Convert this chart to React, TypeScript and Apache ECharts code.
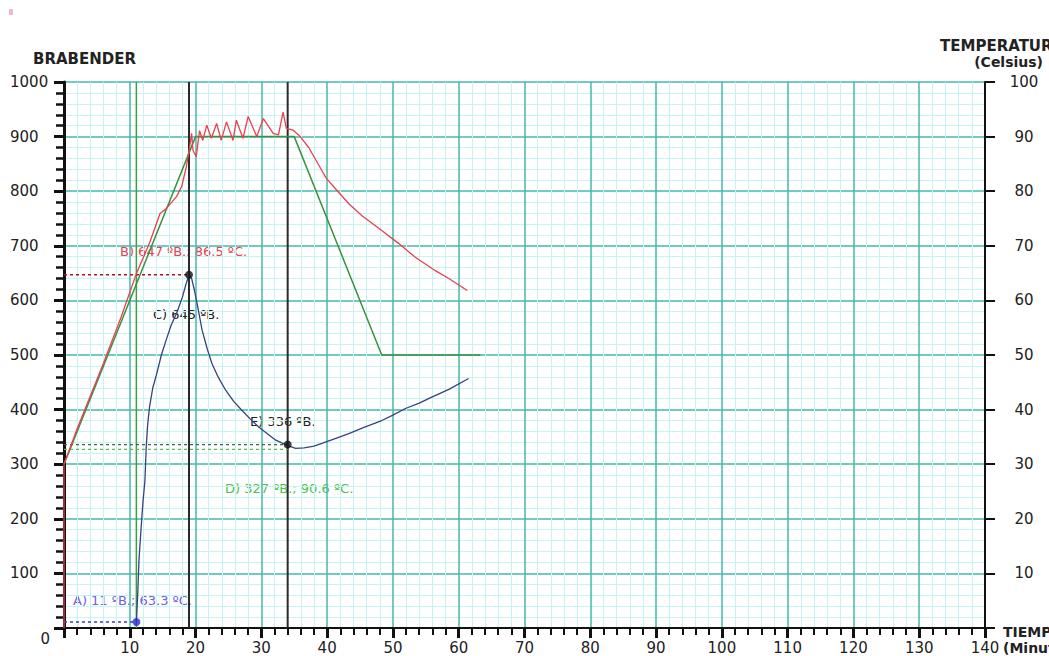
import React, { useEffect, useRef } from "react";
import * as echarts from "echarts";

// Programmed temperature (green), minutes / °C
const greenT = [0, 20, 35, 48.3, 63.3];
const greenV = [30, 90, 90, 50, 50];

// Measured temperature (red), minutes / °C
const redT = [0, 0, 2, 4, 6, 8.7, 11, 13, 14.6, 15.6, 17.1, 17.9, 18.6, 19.1, 19.4, 19.6, 20.1, 20.6, 21.1, 21.7, 22.4, 23.2, 23.9, 24.7, 25.7, 26.2, 27.2, 28, 29.3, 30.3, 31.8, 32.6, 33.3, 33.8, 34.8, 35.9, 37.2, 38.2, 39.8, 41.3, 43.3, 45.3, 48.3, 50.9, 53.4, 56.5, 58.5, 61.3];
const redV = [0, 30, 36.5, 42.5, 48.5, 57, 64.9, 70.5, 75.9, 76.9, 79, 80.9, 84.5, 88.1, 90.6, 87.5, 86.3, 91.1, 89.3, 92.1, 89.7, 92.4, 89.3, 92.7, 89.3, 93, 89.7, 93.7, 90, 93.3, 90.6, 90.3, 94.5, 91.5, 91.2, 90, 88, 85.9, 82.5, 80.4, 77.7, 75.5, 72.8, 70.4, 67.9, 65.4, 64, 61.8];

// Brabender viscosity (blue), minutes / BU
const blueT = [11, 11.2, 11.4, 11.7, 12.0, 12.3, 12.5, 12.7, 13.0, 13.5, 14.1, 14.8, 15.6, 16.3, 17.1, 18.0, 18.5, 19, 19.4, 19.8, 20.3, 21, 21.8, 22.5, 23.5, 24.6, 25.8, 27.1, 28.3, 29.6, 31, 32.2, 33.7, 34.5, 35.2, 36.5, 38, 39.2, 41, 43.3, 45.5, 48.3, 50, 51.9, 54, 55.9, 58.5, 61.5];
const blueV = [11, 60, 125, 180, 230, 270, 331, 370, 405, 440, 466, 500, 530, 555, 576, 606, 628, 647, 640, 620, 590, 545, 510, 484, 458, 435, 415, 398, 383, 368, 355, 344, 336, 332, 329, 330, 333, 338, 346, 356, 367, 380, 390, 402, 412, 423, 437, 457];

// Marked points
const pointA = [11, 11];
const pointB = [19, 647];
const pointE = [34, 336];
const levelD = 327;
const verticalMarks = [11, 19, 34];

const labelA = "A) 11 ºB.; 63.3 ºC.";
const labelB = "B) 647 ºB.; 86.5 ºC.";
const labelC = "C) 645 ºB.";
const labelE = "E) 336 ºB.";
const labelD = "D) 327 ºB.; 90.6 ºC.";

const zip = (a: number[], b: number[]) => a.map((v, i) => [v, b[i]]);

const FONT = "DejaVu Sans";
const TEAL = "#45b8a8";
const MINOR = "#c8f3f3";

export default function App() {
  const ref = useRef<HTMLDivElement>(null);
  useEffect(() => {
    if (!ref.current) return;
    const chart = echarts.init(ref.current, undefined, { renderer: "svg" });
    const txt = (x: number, y: number, text: string, fill: string, size = 12, weight: any = "normal", align = "left") => ({
      type: "text",
      x,
      y,
      silent: true,
      style: { text, fill, fontSize: size, fontFamily: FONT, fontWeight: weight, align, verticalAlign: "middle" },
    });
    chart.setOption({
      animation: false,
      backgroundColor: "#ffffff",
      grid: { left: 64, right: 64, top: 82, bottom: 28, containLabel: false },
      xAxis: {
        type: "value",
        min: 0,
        max: 140,
        interval: 10,
        axisLine: { show: true, onZero: false, lineStyle: { color: "#111", width: 2 } },
        axisTick: { show: true, length: 10, lineStyle: { color: "#111", width: 3 } },
        minorTick: { show: true, splitNumber: 5, length: 7, lineStyle: { color: "#111", width: 2 } },
        splitLine: { show: true, lineStyle: { color: TEAL, width: 1.5 } },
        minorSplitLine: { show: true, lineStyle: { color: MINOR, width: 1 } },
        axisLabel: {
          margin: 12,
          color: "#222",
          fontSize: 15,
          fontFamily: FONT,
          formatter: (v: number) => (v === 0 ? "" : String(v)),
        },
      },
      yAxis: [
        {
          type: "value",
          position: "left",
          min: 0,
          max: 1000,
          interval: 100,
          axisLine: { show: true, onZero: false, lineStyle: { color: "#111", width: 3 } },
          axisTick: { show: true, length: 10, lineStyle: { color: "#111", width: 3 } },
          minorTick: { show: true, splitNumber: 5, length: 8, lineStyle: { color: "#111", width: 2.5 } },
          splitLine: { show: true, lineStyle: { color: TEAL, width: 1.5 } },
          minorSplitLine: { show: true, lineStyle: { color: MINOR, width: 1 } },
          axisLabel: {
            margin: 14,
            formatter: (v: number) => (v === 0 ? "" : "{a|" + v + "}"),
            rich: {
              a: { width: 40, align: "left", color: "#222", fontSize: 15, fontFamily: FONT },
            },
          },
        },
        {
          type: "value",
          position: "right",
          min: 0,
          max: 100,
          interval: 10,
          axisLine: { show: true, onZero: false, lineStyle: { color: "#111", width: 2 } },
          axisTick: { show: true, length: 10, lineStyle: { color: "#111", width: 2 } },
          splitLine: { show: false },
          axisLabel: {
            margin: 39,
            align: "center",
            color: "#222",
            fontSize: 15,
            fontFamily: FONT,
            formatter: (v: number) => (v === 0 ? "" : String(v)),
          },
        },
      ],
      series: [
        ...verticalMarks.map((t, i) => ({
          type: "line",
          yAxisIndex: 0,
          data: [
            [t, 0],
            [t, 1000],
          ],
          symbol: "none",
          silent: true,
          lineStyle: { color: i === 0 ? "#3f9f3f" : "#2a2a2a", width: i === 0 ? 1.5 : 2 },
          z: 3,
        })),
        {
          type: "line",
          yAxisIndex: 0,
          data: [
            [0, pointA[1]],
            pointA,
          ],
          symbol: "none",
          lineStyle: { color: "#3a3ad0", width: 1.5, type: [3, 3] },
          z: 4,
        },
        {
          type: "line",
          yAxisIndex: 0,
          data: [
            [0, pointB[1]],
            pointB,
          ],
          symbol: "none",
          lineStyle: { color: "#b0102a", width: 1.5, type: [3, 3] },
          z: 4,
        },
        {
          type: "line",
          yAxisIndex: 0,
          data: [
            [0, pointE[1]],
            pointE,
          ],
          symbol: "none",
          lineStyle: { color: "#4a6040", width: 1.2, type: [3, 3] },
          z: 4,
        },
        {
          type: "line",
          yAxisIndex: 0,
          data: [
            [0, levelD],
            [pointE[0], levelD],
          ],
          symbol: "none",
          lineStyle: { color: "#5cb85c", width: 1.2, type: [3, 3] },
          z: 4,
        },
        {
          type: "line",
          yAxisIndex: 1,
          data: zip(greenT, greenV),
          symbol: "none",
          lineStyle: { color: "#3a9140", width: 1.5 },
          z: 5,
        },
        {
          type: "line",
          yAxisIndex: 1,
          data: zip(redT, redV),
          symbol: "none",
          lineStyle: { color: "#e8404e", width: 1.3 },
          z: 6,
        },
        {
          type: "line",
          yAxisIndex: 0,
          data: zip(blueT, blueV),
          symbol: "none",
          lineStyle: { color: "#34447e", width: 1.3 },
          z: 6,
        },
        {
          type: "scatter",
          yAxisIndex: 0,
          data: [pointB, pointE],
          symbolSize: 8,
          itemStyle: { color: "#111" },
          z: 7,
        },
        {
          type: "scatter",
          yAxisIndex: 0,
          data: [pointA],
          symbolSize: 8,
          itemStyle: { color: "#2a2ad8" },
          z: 7,
        },
      ],
      graphic: [
        { type: "rect", shape: { x: 9, y: 9, width: 4, height: 6 }, style: { fill: "#f2b8c8" }, silent: true },
        txt(33, 59, "BRABENDER", "#222", 15, "bold"),
        txt(940, 46, "TEMPERATURA", "#222", 15, "bold"),
        txt(1043, 62, "(Celsius)", "#222", 14, "bold", "right"),
        txt(1003, 632, "TIEMPO", "#222", 14, "bold"),
        txt(1003, 648, "(Minutos)", "#222", 14, "bold"),
        txt(50, 639, "0", "#222", 15, "normal", "right"),
        txt(73, 600, labelA, "#7060e0", 13),
        txt(120, 251, labelB, "#e8404e", 13),
        txt(153, 314, labelC, "#222", 13),
        txt(250, 421, labelE, "#222", 13),
        txt(225, 488, labelD, "#4cc04c", 13),
      ],
    });
    return () => chart.dispose();
  }, []);
  return (
    <div
      ref={ref}
      style={{ position: "fixed", left: 0, top: 0, width: 1049, height: 656, overflow: "hidden", background: "#fff" }}
    />
  );
}
